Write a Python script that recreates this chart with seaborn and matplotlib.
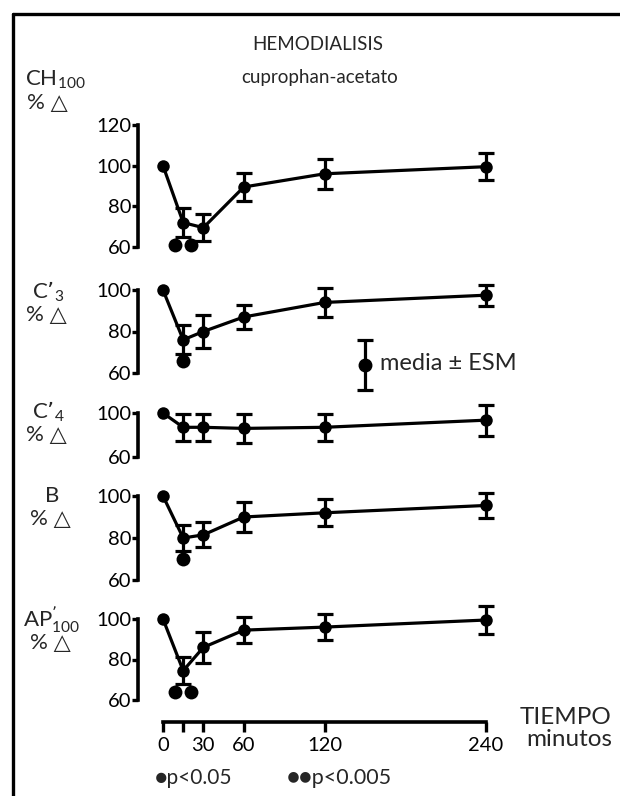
import matplotlib
matplotlib.use("Agg")
import matplotlib.pyplot as plt
from matplotlib.lines import Line2D
import numpy as np
import pandas as pd
import seaborn as sns

# tiempo en minutos
tiempo = [0, 15, 30, 60, 120, 240]

# media y ESM (% del valor basal) por parametro
ch100_media = [100, 72, 69.5, 89.5, 96, 99.5]
ch100_esm = [0, 7, 6.5, 7, 7.5, 6.5]
c3_media = [100, 76, 80, 87, 94, 97.5]
c3_esm = [0, 7, 8, 6, 7, 5]
c4_media = [100, 87, 87, 86, 87, 93.5]
c4_esm = [0, 12.5, 12.5, 13, 12.5, 14]
b_media = [100, 80, 81.5, 90, 92, 95.5]
b_esm = [0, 6, 6, 7, 6.5, 6]
ap100_media = [100, 74.5, 86, 94.5, 96, 99.5]
ap100_esm = [0, 6.5, 7.5, 6.5, 6.5, 7]

# marcas de significacion: (tiempo, nivel donde se dibuja, numero de puntos)
ch100_sig = [(15, 61, 2)]
c3_sig = [(15, 66, 1)]
c4_sig = []
b_sig = [(15, 70, 1)]
ap100_sig = [(15, 64, 2)]

x_ticks = [0, 15, 30, 60, 120, 240]
x_tick_labels = ["0", "", "30", "60", "120", "240"]

sns.set_style("white")
plt.rcParams['font.family'] = ['Lato', 'DejaVu Sans']
plt.rcParams['mathtext.default'] = 'regular'

W, H = 620, 796
fig = plt.figure(figsize=(W / 100, H / 100), dpi=100)

# paneles: etiqueta, media, esm, sig, yticks, (pix y min, pix y max), pos etiqueta
panels = [
    (r"CH$_{100}$", ch100_media, ch100_esm, ch100_sig, [60, 80, 100, 120], (247, 125), (25, 80, 'left')),
    (r"C’$_{3}$", c3_media, c3_esm, c3_sig, [60, 80, 100], (373, 290), (48, 292, 'center')),
    (r"C’$_{4}$", c4_media, c4_esm, c4_sig, [60, 100], (457, 413), (48, 412, 'center')),
    ("B", b_media, b_esm, b_sig, [60, 80, 100], (580, 496), (52, 496, 'center')),
    (r"AP$^{’}_{100}$", ap100_media, ap100_esm, ap100_sig, [60, 80, 100], (700, 619), (52, 620, 'center')),
]

ax_left, ax_right = 138, 500
x0_pix, x240_pix = 163, 486
k = (x240_pix - x0_pix) / 240.0
xlim = (-(x0_pix - ax_left) / k, (ax_right - x0_pix) / k)

lw = 2.3
axes = []
for i, (lab, media, esm, sig, yt, (pmin, pmax), (lx, ly, lha)) in enumerate(panels):
    ax = fig.add_axes([ax_left / W, 1 - pmin / H, (ax_right - ax_left) / W, (pmin - pmax) / H])
    ax.patch.set_alpha(0)
    df = pd.DataFrame({"tiempo": tiempo, "media": media, "esm": esm})
    sns.lineplot(data=df, x="tiempo", y="media", ax=ax, color="black", lw=lw,
                 marker="o", markersize=9, markeredgewidth=0, clip_on=False)
    e = df[df["esm"] > 0]
    ax.errorbar(e["tiempo"], e["media"], yerr=e["esm"], fmt="none", ecolor="black",
                elinewidth=lw, capsize=5.5, capthick=lw, clip_on=False)
    for (t, lev, n) in sig:
        offs = [0] if n == 1 else [-6, 6]
        ax.plot([t + o for o in offs], [lev] * n, "o", color="black", markersize=10,
                markeredgewidth=0, clip_on=False)
    ax.set_xlim(xlim)
    ax.set_ylim(yt[0], yt[-1])
    ax.set_yticks(yt)
    ax.set_yticklabels([str(v) for v in yt])
    ax.set_xlabel("")
    ax.set_ylabel("")
    for s in ["top", "right"]:
        ax.spines[s].set_visible(False)
    ax.spines["left"].set_linewidth(2.6)
    ax.spines["left"].set_color("black")
    ax.tick_params(axis="y", direction="out", length=4, width=2.4, pad=1,
                   labelsize=14.5, colors="black", left=True)
    if i < len(panels) - 1:
        ax.spines["bottom"].set_visible(False)
        ax.tick_params(axis="x", bottom=False, labelbottom=False)
    else:
        ax.spines["bottom"].set_position(("outward", 22 * 0.72))
        ax.spines["bottom"].set_bounds(0, 240)
        ax.spines["bottom"].set_linewidth(2.6)
        ax.spines["bottom"].set_color("black")
        ax.set_xticks(x_ticks)
        ax.set_xticklabels(x_tick_labels)
        ax.tick_params(axis="x", direction="out", length=7, width=2.4, pad=4,
                       labelsize=14.5, colors="black", bottom=True)
    fig.text(lx / W, 1 - ly / H, lab, ha=lha, va="center", fontsize=16)
    fig.text((27 if lha == 'left' else lx - 2) / W, 1 - (ly + 23) / H, "% △",
             ha=lha, va="center", fontsize=16)
    axes.append(ax)

# titulos
fig.text(318 / W, 1 - 45 / H, "HEMODIALISIS", ha="center", va="center", fontsize=13.5)
fig.text(320 / W, 1 - 78 / H, "cuprophan-acetato", ha="center", va="center", fontsize=13.5)

# eje de tiempo
fig.text(520 / W, 1 - 717 / H, "TIEMPO", ha="left", va="center", fontsize=17.5)
fig.text(526 / W, 1 - 739 / H, "minutos", ha="left", va="center", fontsize=17.5)

# leyenda media +- ESM
lax = fig.add_axes([355 / W, 1 - 395 / H, 20 / W, 60 / H])
lax.set_axis_off()
lax.errorbar([0], [0], yerr=[25], fmt="o", color="black", markersize=9,
             elinewidth=lw, capsize=5.5, capthick=lw)
lax.set_xlim(-1, 1)
lax.set_ylim(-30, 30)
fig.text(380 / W, 1 - 364 / H, "media ± ESM", ha="left", va="center", fontsize=17)

# leyenda de significacion
fig.text(155 / W, 1 - 778 / H, "●p<0.05", ha="left", va="center", fontsize=15)
fig.text(287 / W, 1 - 778 / H, "●●p<0.005", ha="left", va="center", fontsize=15.5)

# marco
fig.add_artist(Line2D([13 / W, 1], [1 - 14 / H, 1 - 14 / H], color="black", lw=2.4))
fig.add_artist(Line2D([13 / W, 13 / W], [0, 1 - 14 / H], color="black", lw=2.4))

fig.savefig("out.png", dpi=100)
